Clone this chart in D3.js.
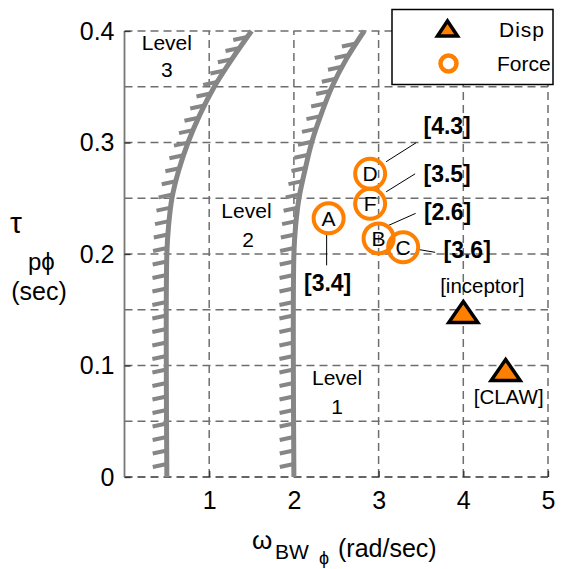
<!DOCTYPE html>
<html><head><meta charset="utf-8">
<script src="https://cdn.jsdelivr.net/npm/d3@7"></script>
<style>body{margin:0;background:#fff}svg{display:block}text{font-family:"Liberation Sans",Arial,sans-serif;fill:#000}</style>
</head><body>
<script>
// ---- data ----
const forceLabels = ["A", "D", "F", "B", "C"];
const forceX = [2.41, 2.90, 2.90, 3.00, 3.29];
const forceY = [0.232, 0.272, 0.245, 0.214, 0.206];
const forceNotes = ["[3.4]", "[4.3]", "[3.5]", "[2.6]", "[3.6]"];
const dispLabels = ["[inceptor]", "[CLAW]"];
const dispX = [4.0, 4.5];
const dispY = [0.148, 0.096];
const boundary23X = [0.5, 0.5, 0.52, 0.56, 0.64, 0.75, 0.89, 1.06, 1.27, 1.5];
const boundary23Y = [0, 0.2, 0.225, 0.25, 0.275, 0.3, 0.325, 0.35, 0.375, 0.4];
const boundary12X = [2.0, 2.0, 2.02, 2.06, 2.13, 2.21, 2.32, 2.45, 2.62, 2.83];
const boundary12Y = [0, 0.2, 0.225, 0.25, 0.275, 0.3, 0.325, 0.35, 0.375, 0.4];
const xTicks = [1, 2, 3, 4, 5];
const yTicks = [0, 0.1, 0.2, 0.3, 0.4];
const yGrid = [0.05, 0.1, 0.15, 0.2, 0.25, 0.3, 0.35, 0.4];
const xGrid = [1, 2, 3, 4, 5];
const legendNames = ["Disp", "Force"];

// ---- drawing ----
const W = 563, H = 569;
const ORANGE = "#FF8000";
const svg = d3.select("body").append("svg").attr("width", W).attr("height", H);
const x = d3.scaleLinear().domain([0, 5]).range([124.5, 548]);
const y = d3.scaleLinear().domain([0, 0.4]).range([477, 31]);

// grid
const g = svg.append("g");
g.selectAll(".hg").data(yGrid).join("line")
  .attr("x1", x(0)).attr("x2", x(5)).attr("y1", d => y(d)).attr("y2", d => y(d))
  .attr("stroke", "#6e6e6e").attr("stroke-width", 1.5).attr("stroke-dasharray", "8,5");
g.selectAll(".vg").data(xGrid).join("line")
  .attr("y1", y(0)).attr("y2", y(0.4)).attr("x1", d => x(d)).attr("x2", d => x(d))
  .attr("stroke", "#6e6e6e").attr("stroke-width", 1.5).attr("stroke-dasharray", "8,5");

// bottom axis line (dashed dark) and left axis (solid)
svg.append("line").attr("x1", x(0)).attr("x2", x(5)).attr("y1", y(0)).attr("y2", y(0))
  .attr("stroke", "#333").attr("stroke-width", 1.5).attr("stroke-dasharray", "8,5");
svg.append("line").attr("x1", x(0)).attr("x2", x(0)).attr("y1", y(0)).attr("y2", y(0.4))
  .attr("stroke", "#777").attr("stroke-width", 1.8);

// axes ticks + labels via d3 axis
const yAxis = d3.axisLeft(y).tickValues(yTicks).tickSize(-6).tickPadding(10)
  .tickFormat(d => d === 0 ? "0" : d3.format(".1f")(d));
const ya = svg.append("g").attr("transform", `translate(${x(0)},0)`).call(yAxis);
ya.select(".domain").remove();
ya.selectAll("line").attr("stroke", "#333").attr("stroke-width", 1.3);
ya.selectAll("text").attr("font-size", 25).attr("font-family", "Liberation Sans, Arial, sans-serif").attr("fill", "#000");

const xAxis = d3.axisBottom(x).tickValues(xTicks).tickSize(-6).tickPadding(14).tickFormat(d3.format("d"));
const xa = svg.append("g").attr("transform", `translate(0,${y(0)})`).call(xAxis);
xa.select(".domain").remove();
xa.selectAll("line").attr("stroke", "#333").attr("stroke-width", 1.3);
xa.selectAll("text").attr("font-size", 25).attr("font-family", "Liberation Sans, Arial, sans-serif").attr("fill", "#000");

// boundaries with hatches
const line = d3.line().x(d => x(d[0])).y(d => y(d[1])).curve(d3.curveCatmullRom);
function boundary(xs, ys) {
  const pts = xs.map((v, i) => [v, ys[i]]);
  const p = svg.append("path").attr("d", line(pts)).attr("fill", "none")
    .attr("stroke", "#868686").attr("stroke-width", 5);
  const node = p.node();
  const L = node.getTotalLength();
  const hs = [];
  for (let s = 13; s < L - 4; s += 13.5) hs.push(node.getPointAtLength(s));
  svg.append("g").selectAll("line").data(hs).join("line")
    .attr("x1", d => d.x).attr("y1", d => d.y).attr("x2", d => d.x - 14).attr("y2", d => d.y + 3)
    .attr("stroke", "#868686").attr("stroke-width", 4);
}
boundary(boundary23X, boundary23Y);
boundary(boundary12X, boundary12Y);

// level labels
const lv = svg.append("g").attr("font-size", 21).attr("text-anchor", "middle");
[[0.50, 0.39, "Level"], [0.50, 0.365, "3"], [1.44, 0.239, "Level"], [1.46, 0.213, "2"], [2.51, 0.089, "Level"], [2.51, 0.063, "1"]]
  .forEach(d => lv.append("text").attr("x", x(d[0])).attr("y", y(d[1])).attr("dy", "0.35em").text(d[2]));

// leader lines and notes (pixel offsets from circle centres)
const noteLayout = [
  {lx: -1, ly: 65, a: [-2, 16], b: [-2, 47]},
  {lx: 77, ly: -48, a: [16, -12], b: [46, -31]},
  {lx: 77, ly: -30, a: [16, -12], b: [45, -30]},
  {lx: 69, ly: -26, a: [10, -13], b: [37, -25]},
  {lx: 64, ly: 3, a: [14, 2], b: [32, 5]}
];
forceLabels.forEach((lab, i) => {
  const cx = x(forceX[i]), cy = y(forceY[i]), L = noteLayout[i];
  svg.append("line").attr("x1", cx + L.a[0]).attr("y1", cy + L.a[1]).attr("x2", cx + L.b[0]).attr("y2", cy + L.b[1])
    .attr("stroke", "#000").attr("stroke-width", 1);
  svg.append("text").attr("x", cx + L.lx).attr("y", cy + L.ly).attr("dy", "0.35em")
    .attr("text-anchor", "middle").attr("font-size", 23).attr("font-weight", "bold").text(forceNotes[i]);
});

// force circles
const fc = svg.append("g");
forceLabels.forEach((lab, i) => {
  fc.append("circle").attr("cx", x(forceX[i])).attr("cy", y(forceY[i])).attr("r", 15)
    .attr("fill", "none").attr("stroke", ORANGE).attr("stroke-width", 4);
  fc.append("text").attr("x", x(forceX[i])).attr("y", y(forceY[i])).attr("dy", "0.36em")
    .attr("text-anchor", "middle").attr("font-size", 21).text(lab);
});

// disp triangles
function tri(cx, cy, w, h) {
  return `M${cx},${cy - h / 2} L${cx + w / 2},${cy + h / 2} L${cx - w / 2},${cy + h / 2} Z`;
}
dispLabels.forEach((lab, i) => {
  const cx = x(dispX[i]), cy = y(dispY[i]);
  svg.append("path").attr("d", tri(cx, cy, 29, 21)).attr("fill", ORANGE).attr("stroke", "#000")
    .attr("stroke-width", 3.5).attr("stroke-linejoin", "miter");
});
svg.append("text").attr("x", x(dispX[0]) + 19).attr("y", y(dispY[0]) - 26).attr("dy", "0.35em")
  .attr("text-anchor", "middle").attr("font-size", 20.5).text(dispLabels[0]);
svg.append("text").attr("x", x(dispX[1]) + 3).attr("y", y(dispY[1]) + 27).attr("dy", "0.35em")
  .attr("text-anchor", "middle").attr("font-size", 20.5).text(dispLabels[1]);

// legend
const lg = svg.append("g");
lg.append("rect").attr("x", 392).attr("y", 9.5).attr("width", 161).attr("height", 75)
  .attr("fill", "#fff").attr("stroke", "#000").attr("stroke-width", 1.5);
lg.append("path").attr("d", tri(447.5, 28.5, 20, 15)).attr("fill", ORANGE).attr("stroke", "#000").attr("stroke-width", 3.5);
lg.append("circle").attr("cx", 448.5).attr("cy", 63.5).attr("r", 8).attr("fill", "none").attr("stroke", ORANGE).attr("stroke-width", 4.5);
lg.append("text").attr("x", 499).attr("y", 30).attr("dy", "0.35em").attr("font-size", 21).attr("letter-spacing", 1).text(legendNames[0]);
lg.append("text").attr("x", 497).attr("y", 64).attr("dy", "0.35em").attr("font-size", 21).text(legendNames[1]);

// axis titles
const yl = svg.append("g");
yl.append("text").attr("x", 10).attr("y", 233).attr("font-size", 30).text("τ");
yl.append("text").attr("x", 28).attr("y", 270).attr("font-size", 24).text("pϕ");
yl.append("text").attr("x", 39).attr("y", 300).attr("font-size", 25).attr("text-anchor", "middle").text("(sec)");

const xl = svg.append("g").attr("font-size", 26);
xl.append("text").attr("x", 252).attr("y", 549).text("ω");
xl.append("text").attr("x", 275).attr("y", 559).attr("font-size", 21).text("BW");
xl.append("text").attr("x", 319).attr("y", 564).attr("font-size", 18).text("ϕ");
xl.append("text").attr("x", 338).attr("y", 557).attr("font-size", 25).text("(rad/sec)");
</script>
</body></html>
